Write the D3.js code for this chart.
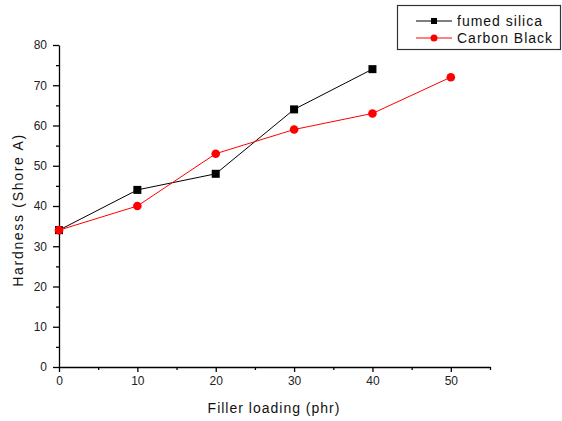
<!DOCTYPE html>
<html>
<head>
<meta charset="utf-8">
<script src="https://cdn.jsdelivr.net/npm/d3@7"></script>
<style>
  html, body { margin: 0; padding: 0; background: #fff; }
  svg { display: block; font-family: "Liberation Sans", Arial, sans-serif; }
</style>
</head>
<body>
<svg id="chart" width="562" height="421"></svg>
<script>
// Filler loading (phr) and Shore A hardness for each filler
const loadingSilica = [0, 10, 20, 30, 40];
const hardnessSilica = [34, 44, 48, 64, 74];
const loadingCarbon = [0, 10, 20, 30, 40, 50];
const hardnessCarbon = [34, 40, 53, 59, 63, 72];
const seriesNames = ["fumed silica", "Carbon Black"];
const xTicks = [0, 10, 20, 30, 40, 50];
const yTicks = [0, 10, 20, 30, 40, 50, 60, 70, 80];

const svg = d3.select("#chart");
const x = d3.scaleLinear().domain([0, 55]).range([59, 490]);
const y = d3.scaleLinear().domain([0, 80]).range([367, 45]);

const g = svg.append("g");

// Axes with major and minor ticks
const xMinor = d3.range(0, 56, 5).filter(v => v % 10 !== 0);
const yMinor = d3.range(0, 81, 5).filter(v => v % 10 !== 0);

g.append("g").attr("transform", `translate(0,${y(0)})`)
  .call(d3.axisBottom(x).tickValues(xTicks).tickSize(5).tickPadding(4).tickSizeOuter(0));
g.append("g").attr("transform", `translate(${x(0)},0)`)
  .call(d3.axisLeft(y).tickValues(yTicks).tickSize(6).tickPadding(6).tickSizeOuter(0));

g.append("g").attr("transform", `translate(0,${y(0)})`)
  .call(d3.axisBottom(x).tickValues(xMinor).tickSize(3).tickFormat("").tickSizeOuter(0))
  .select(".domain").remove();
g.append("g").attr("transform", `translate(${x(0)},0)`)
  .call(d3.axisLeft(y).tickValues(yMinor).tickSize(3).tickFormat("").tickSizeOuter(0))
  .select(".domain").remove();

g.selectAll(".domain, .tick line").attr("stroke", "#000").attr("stroke-width", 1.3);
g.selectAll(".tick text").attr("font-size", 12).attr("fill", "#222")
  .attr("font-family", "'Liberation Sans', Arial, sans-serif");

// Axis titles
svg.append("text").attr("x", 274).attr("y", 413).attr("text-anchor", "middle")
  .attr("font-size", 14).attr("letter-spacing", 1).attr("fill", "#111")
  .text("Filler loading (phr)");
svg.append("text").attr("transform", `translate(23,210) rotate(-90)`)
  .attr("text-anchor", "middle").attr("font-size", 14).attr("letter-spacing", 1.7)
  .attr("fill", "#111").text("Hardness (Shore A)");

// Series
const line = d3.line().x(d => x(d[0])).y(d => y(d[1]));
const silica = d3.zip(loadingSilica, hardnessSilica);
const carbon = d3.zip(loadingCarbon, hardnessCarbon);

g.append("path").datum(silica).attr("d", line)
  .attr("fill", "none").attr("stroke", "#000").attr("stroke-width", 1);
g.append("path").datum(carbon).attr("d", line)
  .attr("fill", "none").attr("stroke", "#ff0000").attr("stroke-width", 1);

g.selectAll(".sq").data(silica).enter().append("rect")
  .attr("x", d => x(d[0]) - 4).attr("y", d => y(d[1]) - 4)
  .attr("width", 8).attr("height", 8).attr("fill", "#000");
g.selectAll(".ci").data(carbon).enter().append("circle")
  .attr("cx", d => x(d[0])).attr("cy", d => y(d[1])).attr("r", 4.3)
  .attr("fill", "#ff0000");

// Legend
const lg = svg.append("g");
lg.append("rect").attr("x", 397.5).attr("y", 5.5).attr("width", 163).attr("height", 44)
  .attr("fill", "#fff").attr("stroke", "#333").attr("stroke-width", 1.2);
const colors = ["#000", "#ff0000"];
seriesNames.forEach((name, i) => {
  const yy = 21 + i * 17;
  lg.append("line").attr("x1", 416).attr("x2", 452).attr("y1", yy).attr("y2", yy)
    .attr("stroke", colors[i]).attr("stroke-width", 1);
  if (i === 0) {
    lg.append("rect").attr("x", 431).attr("y", yy - 3).attr("width", 6).attr("height", 6).attr("fill", colors[i]);
  } else {
    lg.append("circle").attr("cx", 434).attr("cy", yy).attr("r", 3.5).attr("fill", colors[i]);
  }
  lg.append("text").attr("x", 457).attr("y", yy + 5).attr("font-size", 14)
    .attr("letter-spacing", 1).attr("fill", "#111").text(name);
});
</script>
</body>
</html>
